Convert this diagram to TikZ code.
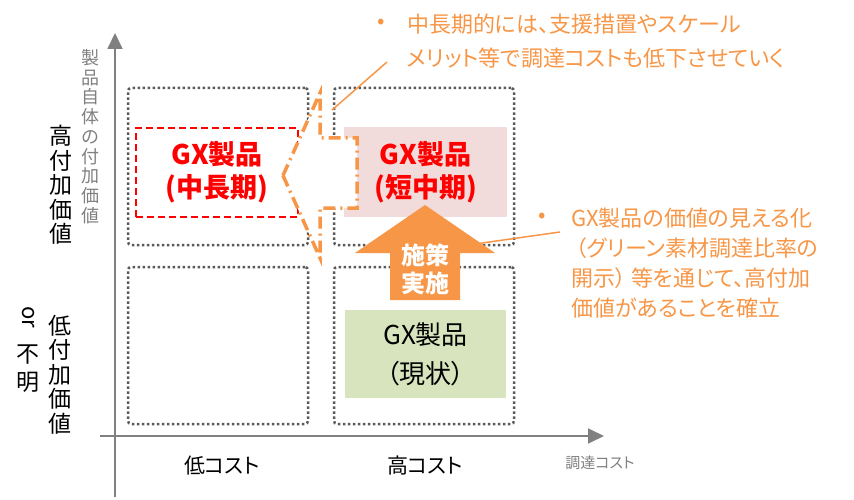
\documentclass[tikz,border=0pt]{standalone}
\usepackage{fontspec}
\setmainfont{Noto Sans CJK JP}[RawFeature=+palt]
\usetikzlibrary{arrows.meta}
\definecolor{gxorange}{HTML}{F79646}
\definecolor{gxpink}{HTML}{F2DCDB}
\definecolor{gxgreen}{HTML}{D7E4BD}
\definecolor{axisgray}{HTML}{808080}
\definecolor{dotgray}{HTML}{595959}

\begin{document}
\begin{tikzpicture}[x=1pt,y=-1pt,
        quad/.style={draw=dotgray,line width=2.5pt,dash pattern=on 2.5pt off 2.5pt,rounded corners=3pt,minimum width=180pt,minimum height=157pt},
        axis/.style={draw=axisgray,line width=1.8pt,-{Triangle[length=16pt,width=15pt]}},
        callout/.style={draw=gxorange,line width=1.5pt},
        lbl/.style={inner sep=0pt,align=center},
        note/.style={inner sep=0pt,align=left,text=gxorange,font=\fontsize{22}{30}\selectfont}]
    \useasboundingbox (0,0) rectangle (854,500);

    % axes
    \coordinate (ybot)   at (115,497);
    \coordinate (ytop)   at (115,33);
    \coordinate (xleft)  at (100,436);
    \coordinate (xright) at (604,436);
    \draw [axis] (ybot) -- (ytop);
    \draw [axis] (xleft) -- (xright);

    \node[lbl,text=axisgray,font=\fontsize{18}{19.7}\selectfont] (ylabel) at (90,136.5) {製\\品\\自\\体\\の\\付\\加\\価\\値};
    \node[lbl,font=\fontsize{23}{24.5}\selectfont] (high) at (61,185) {高\\付\\加\\価\\値};
    \node[lbl,font=\fontsize{23}{24.5}\selectfont] (low)  at (60,374.5) {低\\付\\加\\価\\値};
    \node[lbl,font=\fontsize{22}{22}\selectfont,rotate=-90] (or) at (28,317.5) {or};
    \node[lbl,font=\fontsize{23}{28}\selectfont] (unknown) at (28,368.5) {不\\明};
    \node[lbl,font=\fontsize{21}{21}\selectfont] (lowcost)  at (222,466) {低コスト};
    \node[lbl,font=\fontsize{21}{21}\selectfont] (highcost) at (425,466) {高コスト};
    \node[lbl,text=axisgray,font=\fontsize{15}{15}\selectfont] (xlabel) at (600,463) {調達コスト};

    % quadrants
    \node[quad] (q1) at (218,166.5) {};
    \node[quad] (q2) at (424,166.5) {};
    \node[quad] (q3) at (218,345.5) {};
    \node[quad] (q4) at (424,345.5) {};

    \node[fill=gxpink,minimum width=163pt,minimum height=90pt,align=center,text=red,font=\bfseries\fontsize{27}{33}\selectfont] (short) at (425.5,172) {GX製品\\(短中期)};
    \node[fill=gxgreen,minimum width=161pt,minimum height=88pt,align=center,font=\fontsize{26}{39}\selectfont] (now) at (425.5,354) {GX製品\\（現状）};
    \node[draw=red,line width=1.5pt,dash pattern=on 7pt off 4pt,minimum width=162pt,minimum height=89pt,align=center,text=red,font=\bfseries\fontsize{27}{33}\selectfont] (mid) at (217,172.5) {GX製品\\(中長期)};

    % dashed arrow to the left
    \filldraw[fill=white,draw=gxorange,line width=3.5pt,dash pattern=on 12pt off 5pt on 2pt off 5pt]
        (283,175.5) -- (320,93) -- (320,138) -- (357,138) -- (357,208) -- (320,208) -- (320,258) -- cycle;

    % up arrow
    \fill[gxorange] (390,300) -- (390,253) -- (355,253) -- (425,205) -- (495,253) -- (460,253) -- (460,300) -- cycle;
    \node[lbl,text=white,font=\bfseries\fontsize{24}{28}\selectfont] (policy) at (425,269) {施策\\実施};

    % notes
    \coordinate (c1a) at (332,110);
    \coordinate (c1b) at (387,62);
    \draw [callout] (c1a) -- (c1b);
    \node[note] (dot1) at (381,24) {•};
    \node[note,anchor=west,font=\fontsize{22}{34}\selectfont] (note1) at (407,41)
        {中長期的には、支援措置やスケール\\メリット等で調達コストも低下させていく};

    \coordinate (c2a) at (468,245);
    \coordinate (c2b) at (560,232);
    \draw [callout] (c2a) -- (c2b);
    \node[note] (dot2) at (542,218) {•};
    \node[note,anchor=west] (note2) at (571,263)
        {GX製品の価値の見える化\\\hspace{5pt}（グリーン素材調達比率の\\開示） 等を通じて、高付加\\価値があることを確立};
\end{tikzpicture}
\end{document}
